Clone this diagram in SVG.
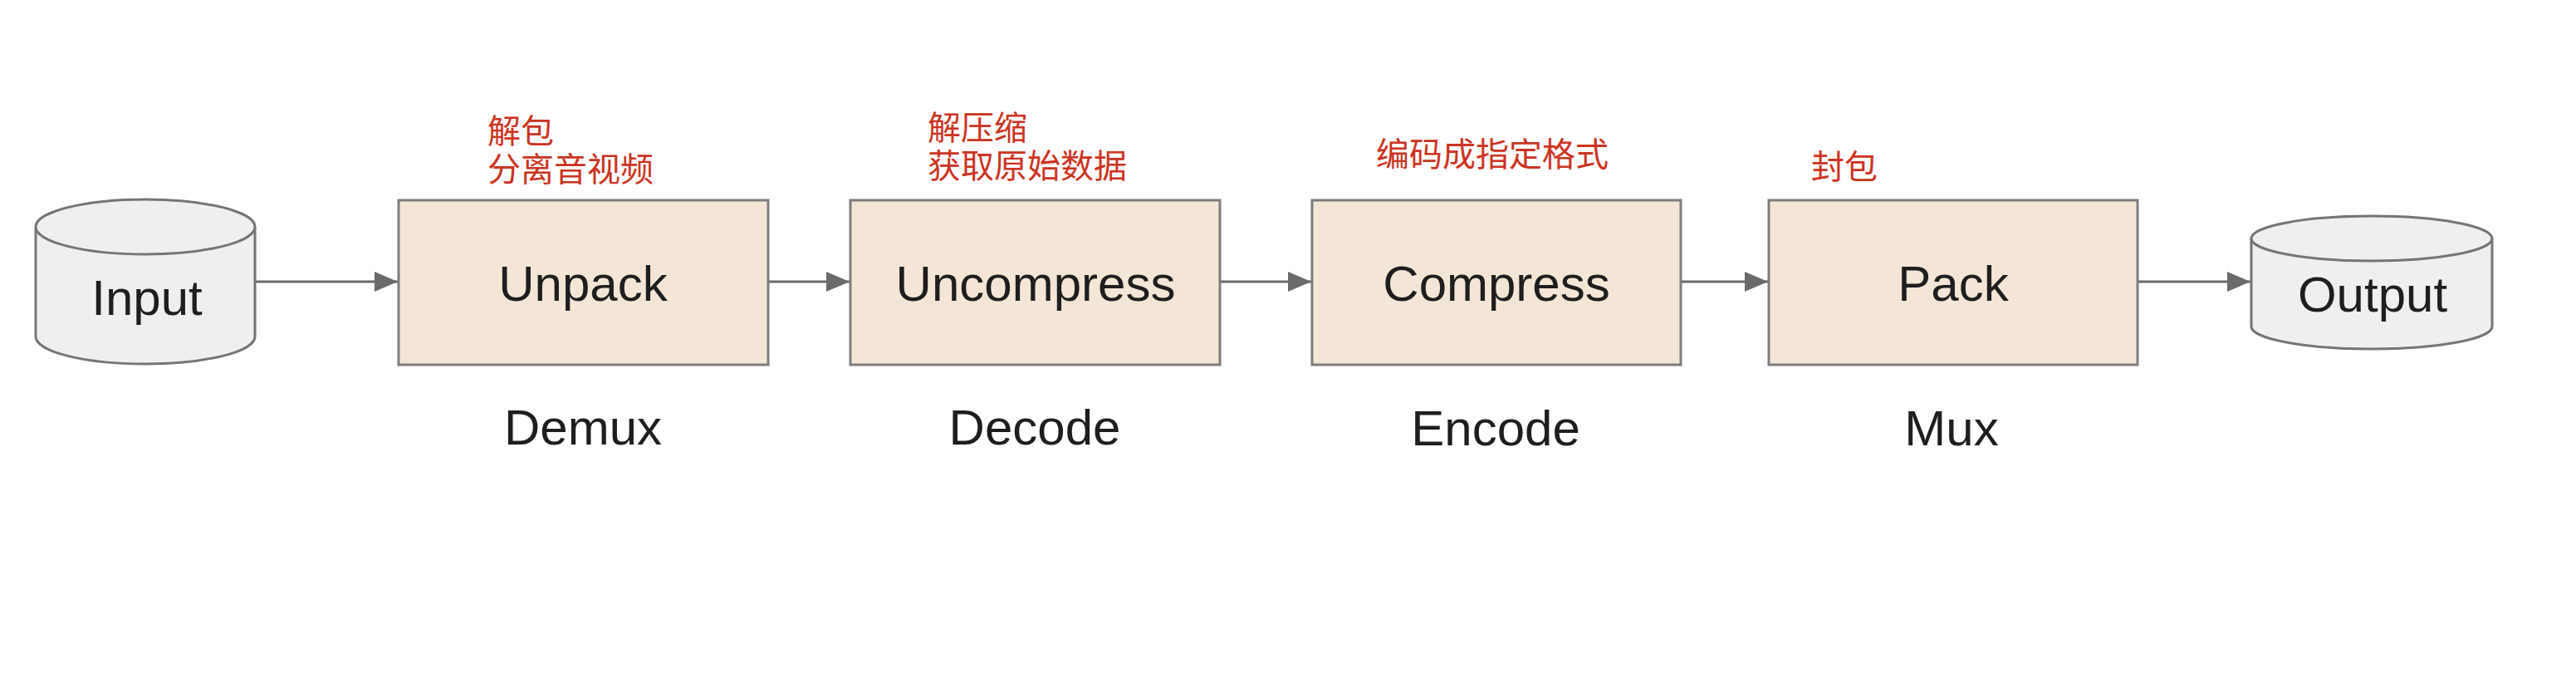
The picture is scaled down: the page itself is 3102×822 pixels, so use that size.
<svg xmlns="http://www.w3.org/2000/svg" width="3102" height="822" viewBox="0 0 3102 822">
<defs>
<style>
.box{fill:#f4e6d6;stroke:#7d7d7d;stroke-width:3}
.cyl{fill:#efefef;stroke:#757575;stroke-width:3}
.lbl{font-family:"Liberation Sans",Arial,sans-serif;font-size:60px;fill:#1e1e1e;text-anchor:middle}
.note{font-family:"Noto Sans CJK SC","Noto Sans",sans-serif;font-size:40px;fill:#cc3322}
.conn{stroke:#6a6a6a;stroke-width:3;fill:none}
</style>
<marker id="ah" viewBox="0 0 28 24" refX="28" refY="12" markerWidth="28" markerHeight="24" markerUnits="userSpaceOnUse" orient="auto">
<path d="M0,0 L28,12 L0,24 Z" fill="#6a6a6a"/>
</marker>
</defs>
<rect width="3102" height="822" fill="#ffffff"/>
<g id="connectors">
<line class="conn" x1="307" y1="339" x2="479" y2="339" marker-end="url(#ah)"/>
<line class="conn" x1="925" y1="339" x2="1023" y2="339" marker-end="url(#ah)"/>
<line class="conn" x1="1469" y1="339" x2="1579" y2="339" marker-end="url(#ah)"/>
<line class="conn" x1="2024" y1="339" x2="2129" y2="339" marker-end="url(#ah)"/>
<line class="conn" x1="2574" y1="339" x2="2710" y2="339" marker-end="url(#ah)"/>
</g>
<g id="input">
<path class="cyl" d="M43,273 L43,405 A132,33 0 0 0 307,405 L307,273"/>
<ellipse class="cyl" cx="175" cy="273" rx="132" ry="33"/>
<text class="lbl" x="177" y="379">Input</text>
</g>
<g id="unpack">
<rect class="box" x="480" y="241" width="445" height="198"/>
<text class="lbl" x="702" y="362">Unpack</text>
<text class="lbl" x="702" y="535">Demux</text>
<text class="note" x="587" y="172">解包<tspan x="587" dy="46">分离音视频</tspan></text>
</g>
<g id="uncompress">
<rect class="box" x="1024" y="241" width="445" height="198"/>
<text class="lbl" x="1247" y="362">Uncompress</text>
<text class="lbl" x="1246" y="535">Decode</text>
<text class="note" x="1117" y="168">解压缩<tspan x="1117" dy="46">获取原始数据</tspan></text>
</g>
<g id="compress">
<rect class="box" x="1580" y="241" width="444" height="198"/>
<text class="lbl" x="1802" y="362">Compress</text>
<text class="lbl" x="1801" y="536">Encode</text>
<text class="note" x="1657" y="200">编码成指定格式</text>
</g>
<g id="pack">
<rect class="box" x="2130" y="241" width="444" height="198"/>
<text class="lbl" x="2352" y="362">Pack</text>
<text class="lbl" x="2350" y="536">Mux</text>
<text class="note" x="2181" y="215">封包</text>
</g>
<g id="output">
<path class="cyl" d="M2711,287 L2711,393 A145,27 0 0 0 3001,393 L3001,287"/>
<ellipse class="cyl" cx="2856" cy="287" rx="145" ry="27"/>
<text class="lbl" x="2857" y="375">Output</text>
</g>
</svg>
